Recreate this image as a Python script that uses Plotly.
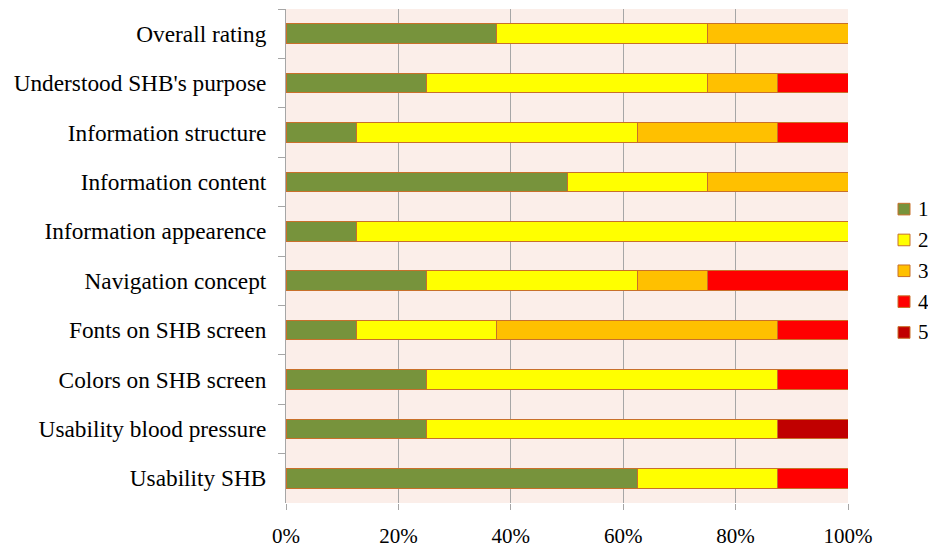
import plotly.graph_objects as go

# Survey items, listed top to bottom
categories = [
    "Overall rating",
    "Understood SHB's purpose",
    "Information structure",
    "Information content",
    "Information appearence",
    "Navigation concept",
    "Fonts on SHB screen",
    "Colors on SHB screen",
    "Usability blood pressure",
    "Usability SHB",
]

# Share of answers (%) for each rating
rating_1 = [37.5, 25.0, 12.5, 50.0, 12.5, 25.0, 12.5, 25.0, 25.0, 62.5]
rating_2 = [37.5, 50.0, 50.0, 25.0, 87.5, 37.5, 25.0, 62.5, 62.5, 25.0]
rating_3 = [25.0, 12.5, 25.0, 25.0, 0.0, 12.5, 50.0, 0.0, 0.0, 0.0]
rating_4 = [0.0, 12.5, 12.5, 0.0, 0.0, 25.0, 12.5, 12.5, 0.0, 12.5]
rating_5 = [0.0, 0.0, 0.0, 0.0, 0.0, 0.0, 0.0, 0.0, 12.5, 0.0]

series_names = ["1", "2", "3", "4", "5"]
series_values = [rating_1, rating_2, rating_3, rating_4, rating_5]
series_colors = ["#77933C", "#FFFF00", "#FFC000", "#FF0000", "#C00000"]

x_ticks = [0, 20, 40, 60, 80, 100]
x_tick_labels = ["0%", "20%", "40%", "60%", "80%", "100%"]

FONT = "Liberation Serif, Times New Roman, serif"
EDGE = "#C8702A"
GRID = "#A6A6A6"

W, H = 928, 557
M_L, M_R, M_T, M_B = 286, 80, 9, 37
PLOT_W = W - M_L - M_R
PLOT_H = H - M_T - M_B

fig = go.Figure()
for name, vals, color in zip(series_names, series_values, series_colors):
    fig.add_trace(go.Bar(
        y=categories,
        x=vals,
        name=name,
        orientation="h",
        marker=dict(color=color, line=dict(color=EDGE, width=1)),
        showlegend=False,
    ))

# Compact legend at the right: small square key followed by the rating
def px_x(px):
    return (px - M_L) / PLOT_W

def px_y(py):
    return (H - M_B - py) / PLOT_H

shapes = []
annotations = []
key_left, key_size, text_left = 898, 12, 916
first_center, step = 216, 31.9
for i, (name, color) in enumerate(zip(series_names, series_colors)):
    cy = first_center + i * step
    shapes.append(dict(
        type="rect", xref="paper", yref="paper",
        x0=px_x(key_left), x1=px_x(key_left + key_size),
        y0=px_y(cy + key_size / 2), y1=px_y(cy - key_size / 2),
        fillcolor=color, line=dict(color=EDGE, width=1),
    ))
    annotations.append(dict(
        xref="paper", yref="paper",
        x=px_x(text_left), y=px_y(cy),
        xanchor="left", yanchor="middle",
        text=name, showarrow=False,
        font=dict(family=FONT, size=21, color="#000000"),
    ))

fig.update_layout(
    barmode="stack",
    bargap=0.6,
    width=W,
    height=H,
    margin=dict(l=M_L, r=M_R, t=M_T, b=M_B),
    paper_bgcolor="white",
    plot_bgcolor="#FBEEE9",
    font=dict(family=FONT, size=23.3, color="#000000"),
    showlegend=False,
    shapes=shapes,
    annotations=annotations,
    xaxis=dict(
        range=[0, 100],
        tickvals=x_ticks,
        ticktext=x_tick_labels,
        showgrid=True,
        gridcolor=GRID,
        gridwidth=1,
        zeroline=False,
        showline=False,
        ticks="outside",
        ticklen=6,
        tickcolor=GRID,
        ticklabelstandoff=8,
        tickfont=dict(family=FONT, size=21),
    ),
    yaxis=dict(
        autorange="reversed",
        showgrid=False,
        showline=True,
        linecolor=GRID,
        linewidth=1,
        ticks="outside",
        tickson="boundaries",
        ticklen=7,
        tickcolor=GRID,
        ticklabelstandoff=14,
        tickfont=dict(family=FONT, size=23.3),
    ),
)

fig.write_html("out.html")
